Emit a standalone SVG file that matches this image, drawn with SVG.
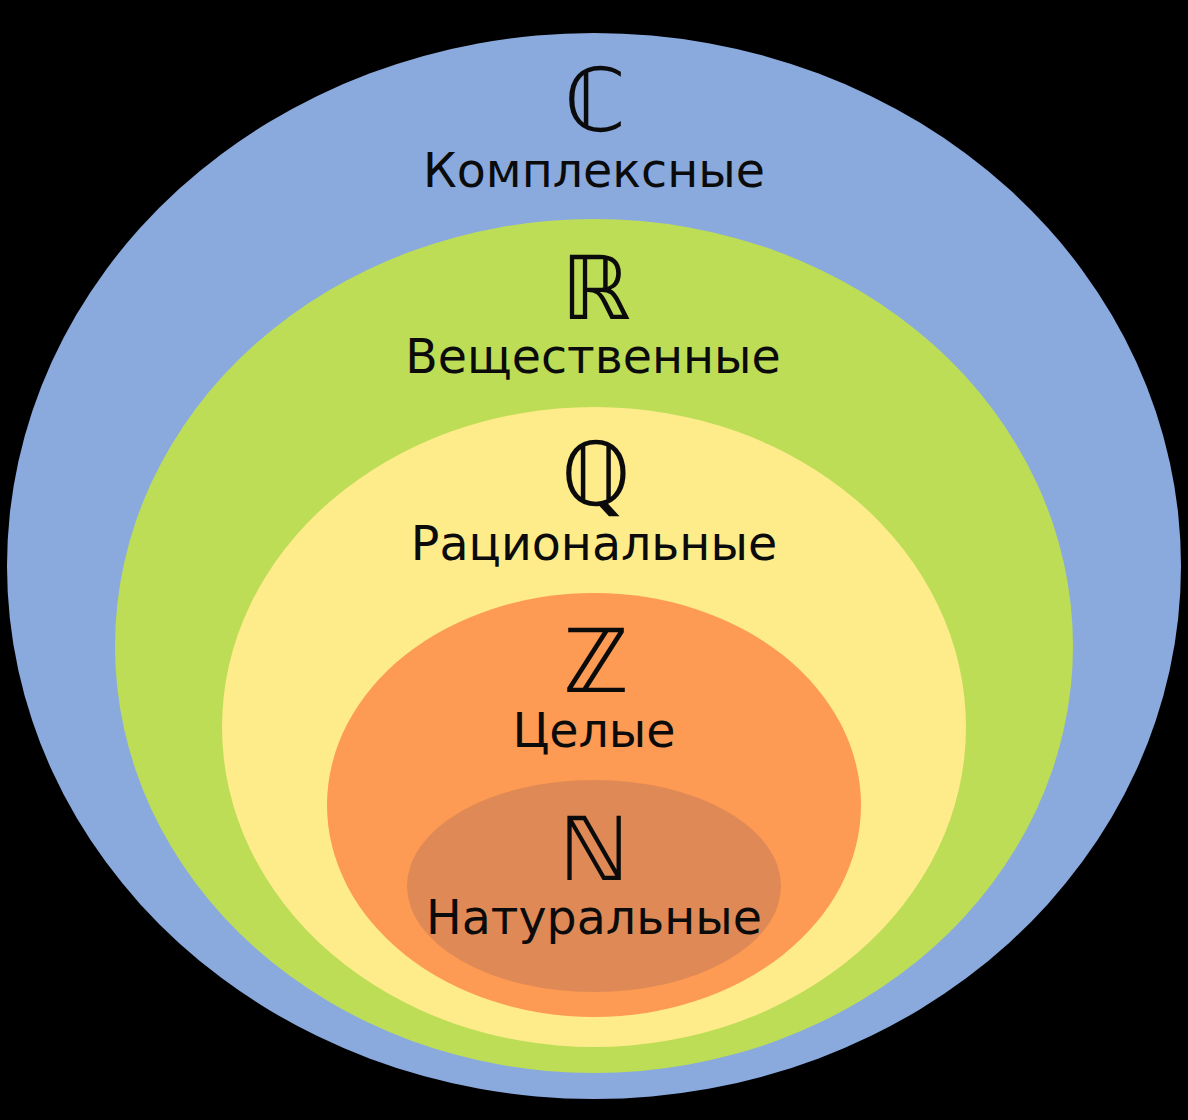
<svg xmlns="http://www.w3.org/2000/svg" width="1188" height="1120" viewBox="0 0 1188 1120">
  <style>
    .sym { font-family: "DejaVu Sans", "Noto Sans", sans-serif; font-size: 88px; fill: #0b0b0b; text-anchor: middle; }
    .lbl { font-family: "DejaVu Sans", "Noto Sans", sans-serif; font-size: 47.5px; fill: #0b0b0b; text-anchor: middle; }
  </style>
  <rect x="0" y="0" width="1188" height="1120" fill="#000000"/>
  <g id="complex">
    <ellipse cx="594" cy="566" rx="587" ry="533" fill="#8aaadd"/>
    <text class="sym" x="595" y="131">ℂ</text>
    <text class="lbl" x="594" y="187">Комплексные</text>
  </g>
  <g id="real">
    <ellipse cx="594" cy="646" rx="479" ry="427" fill="#bddd57"/>
    <text class="sym" x="596" y="319">ℝ</text>
    <text class="lbl" x="593" y="373">Вещественные</text>
  </g>
  <g id="rational">
    <ellipse cx="594" cy="727" rx="372" ry="320" fill="#feeb8a"/>
    <text class="sym" x="596" y="505">ℚ</text>
    <text class="lbl" x="594" y="560">Рациональные</text>
  </g>
  <g id="integer">
    <ellipse cx="594" cy="805" rx="267" ry="212" fill="#fd9a53"/>
    <text class="sym" x="596" y="692">ℤ</text>
    <text class="lbl" x="594" y="747">Целые</text>
  </g>
  <g id="natural">
    <ellipse cx="594" cy="886" rx="187" ry="106" fill="#df8a56"/>
    <text class="sym" x="594" y="880">ℕ</text>
    <text class="lbl" x="594" y="934">Натуральные</text>
  </g>
  <g id="connectors"/>
</svg>
